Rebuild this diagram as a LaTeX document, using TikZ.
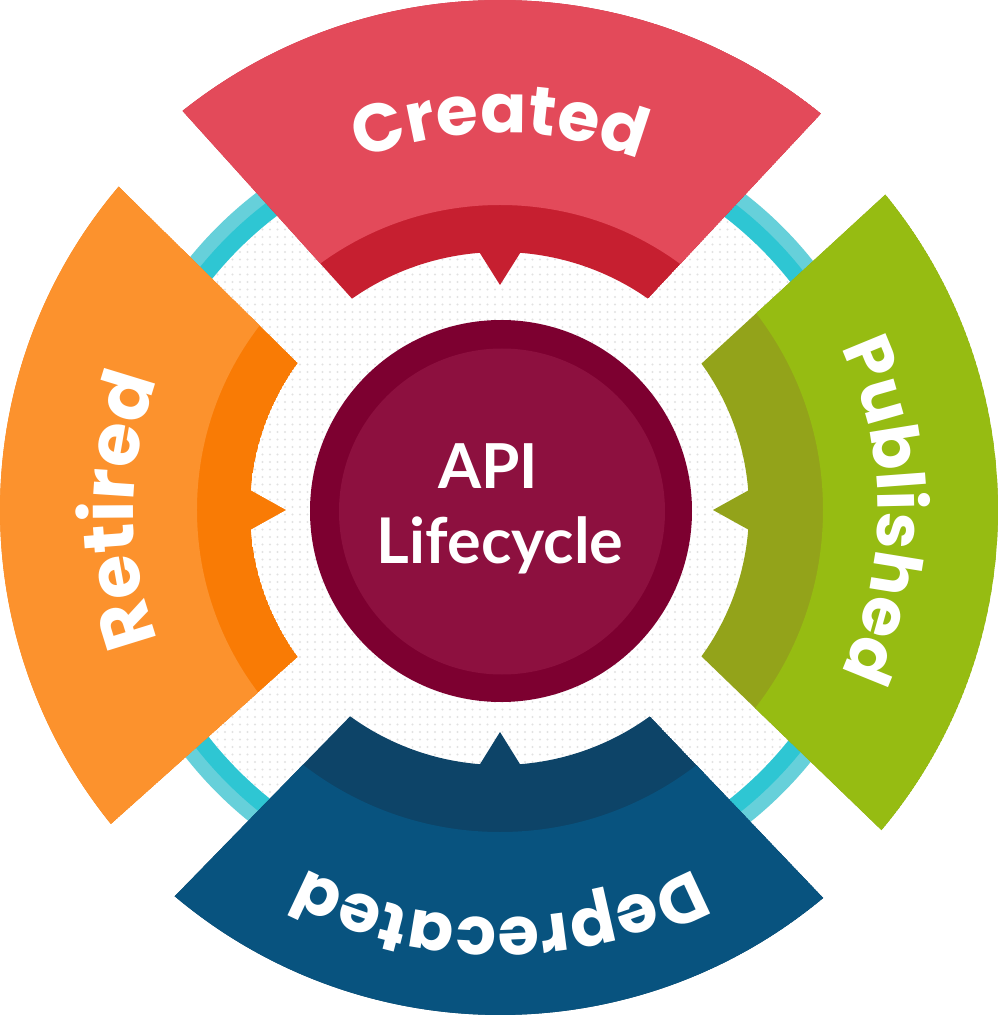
\documentclass[tikz,border=0pt]{standalone}
\usepackage{fontspec}
\usetikzlibrary{decorations.text,patterns.meta}
\newfontfamily\segfont{Poppins}
\newfontfamily\ctrfont{Lato}
\definecolor{crL}{HTML}{E34A5A}\definecolor{crD}{HTML}{C61F30}
\definecolor{puL}{HTML}{96BC12}\definecolor{puD}{HTML}{93A31A}
\definecolor{deL}{HTML}{08537F}\definecolor{deD}{HTML}{0D4468}
\definecolor{reL}{HTML}{FC922D}\definecolor{reD}{HTML}{F97B05}
\definecolor{ctrD}{HTML}{7D0030}\definecolor{ctrL}{HTML}{8D103F}
\definecolor{ringL}{HTML}{66D0DA}\definecolor{ringD}{HTML}{2EC6D3}
\definecolor{dotc}{HTML}{E2E2E2}
% #1 mid #2 Ro #3 aL #4 aR #5 b #6 Ri #7 Rb #8 Rt #9 colour prefix
\newcommand\sectorshape[9]{%
  \def\secpath{({#1+#3}:#2pt) arc[start angle={#1+#3}, end angle={#1-#4}, radius=#2pt]
    -- ({#1-#5}:#6pt) arc[start angle={#1-#5}, end angle={#1-4.5}, radius=#6pt]
    -- (#1:#8pt) -- ({#1+4.5}:#6pt) arc[start angle={#1+4.5}, end angle={#1+#5}, radius=#6pt] -- cycle}%
  \begin{scope}
    \clip \secpath;
    \fill[#9D] \secpath;
    \fill[#9L, even odd rule] (0,0) circle[radius=700pt] (0,0) circle[radius=#7pt];
  \end{scope}}
% #1 mid #2 baseline radius #3 font size #4 text
\newcommand\seglabel[4]{%
  \path[decorate, decoration={text along path, text align=center, text color=white,
     text={|\segfont\bfseries\fontsize{#3}{#3}\selectfont|#4}}]
     ({#1+70}:#2pt) arc[start angle={#1+70}, end angle={#1-70}, radius=#2pt];}
\begin{document}
\begin{tikzpicture}
\useasboundingbox (-500pt,-507pt) rectangle (500pt,510pt);
\fill[white] (-500pt,-507pt) rectangle (500pt,510pt);
% ring and dotted field
\fill[ringL] (0,0) circle[radius=400pt];
\fill[ringD] (0,0) circle[radius=386pt];
\fill[white] (0,0) circle[radius=369pt];
\fill[pattern={Dots[distance=7.5pt,radius=1.1pt]}, pattern color=dotc] (0,0) circle[radius=369pt];
% sectors
\sectorshape{90}{510}{38.5}{39}{35}{258}{305}{225}{cr}
\sectorshape{0}{498}{39.3}{40}{36}{249}{323}{213}{pu}
\sectorshape{-90}{505}{39.8}{40.1}{36}{255}{322}{222}{de}
\sectorshape{180}{500}{38.9}{40.3}{36}{250}{303}{214}{re}
% centre
\node[circle, fill=ctrD, minimum size=382pt, inner sep=0pt] (core) at (1pt,-1pt) {};
\node[circle, fill=ctrL, minimum size=326pt, inner sep=0pt] (coreIn) at (2pt,-1.5pt) {};
\node[text=white, anchor=base, inner sep=0pt, font=\ctrfont\bfseries\fontsize{62}{62}\selectfont] (api) at (-12pt,22pt) {API};
\node[text=white, anchor=base, inner sep=0pt, font=\ctrfont\bfseries\fontsize{63}{63}\selectfont] (life) at (0pt,-53pt) {Lifecycle};
% labels
\seglabel{90}{377}{68}{Created}
\seglabel{0}{378}{66}{Published}
\seglabel{-90}{408}{67}{Deprecated}
\seglabel{180}{366}{72}{Retired}
\end{tikzpicture}
\end{document}
